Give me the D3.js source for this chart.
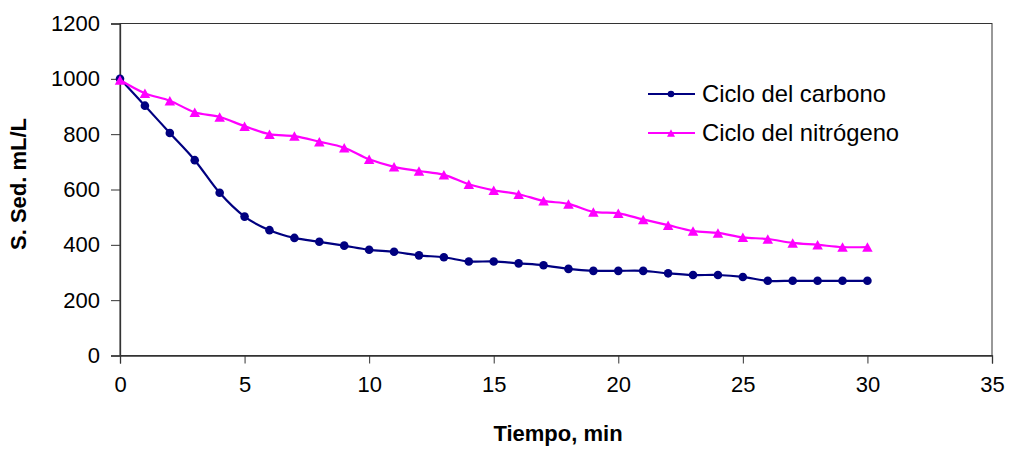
<!DOCTYPE html>
<html>
<head>
<meta charset="utf-8">
<script src="https://cdn.jsdelivr.net/npm/d3@7"></script>
<style>
  html, body { margin: 0; padding: 0; background: #fff; }
  svg { display: block; font-family: "Liberation Sans", Arial, sans-serif; }
</style>
</head>
<body>
<svg id="chart" width="1012" height="450"></svg>
<script>
// Sedimentable solids over time for two treatment cycles
const time = [0,1,2,3,4,5,6,7,8,9,10,11,12,13,14,15,16,17,18,19,20,21,22,23,24,25,26,27,28,29,30];
const carbono = [1000,903,804,706,588,502,453,425,411,397,382,375,362,355,340,340,333,326,313,306,306,306,297,291,291,284,270,270,270,270,270];
const nitrogeno = [996,948,921,879,862,829,800,793,773,751,709,682,667,653,619,597,583,559,548,519,514,492,471,450,443,427,421,407,400,392,392];
const xTicks = [0,5,10,15,20,25,30,35];
const yTicks = [0,200,400,600,800,1000,1200];
const seriesNames = ["Ciclo del carbono", "Ciclo del nitrógeno"];

const svg = d3.select("#chart");
const plot = { left: 120, right: 992, top: 23.5, bottom: 355.5 };

const x = d3.scaleLinear().domain([0, 35]).range([plot.left, plot.right]);
const y = d3.scaleLinear().domain([0, 1200]).range([plot.bottom, plot.top]);

// plot frame
svg.append("rect")
  .attr("x", plot.left).attr("y", plot.top)
  .attr("width", plot.right - plot.left).attr("height", plot.bottom - plot.top)
  .attr("fill", "none").attr("stroke", "#333").attr("stroke-width", 1);

// axes
const xAxis = svg.append("g")
  .attr("transform", `translate(0,${plot.bottom})`)
  .call(d3.axisBottom(x).tickValues(xTicks).tickSize(8).tickPadding(13).tickFormat(d3.format("d")));
const yAxis = svg.append("g")
  .attr("transform", `translate(${plot.left},0)`)
  .call(d3.axisLeft(y).tickValues(yTicks).tickSize(9).tickPadding(11).tickFormat(d3.format("d")));

[xAxis, yAxis].forEach(g => {
  g.select(".domain").attr("stroke", "#333").attr("stroke-width", 1.3);
  g.selectAll(".tick line").attr("stroke", "#333").attr("stroke-width", 1);
  g.selectAll(".tick text")
    .attr("fill", "#000")
    .style("font-family", '"Liberation Sans", Arial, sans-serif')
    .style("font-size", "22px");
});

// axis titles
svg.append("text")
  .attr("x", 558).attr("y", 441)
  .attr("text-anchor", "middle")
  .style("font-size", "22px").style("font-weight", "bold")
  .text("Tiempo, min");
svg.append("text")
  .attr("transform", "translate(26,184) rotate(-90)")
  .attr("text-anchor", "middle")
  .style("font-size", "22px").style("font-weight", "bold")
  .text("S. Sed. mL/L");

// series
const colors = ["#000080", "#ff00ff"];
const series = [carbono, nitrogeno];

const line = d3.line()
  .x((d, i) => x(time[i]))
  .y(d => y(d))
  .curve(d3.curveCardinal.tension(0));

function triangle(w, h) {
  return `M0,${-h / 2}L${w / 2},${h / 2}L${-w / 2},${h / 2}Z`;
}

series.forEach((vals, s) => {
  const g = svg.append("g");
  g.append("path")
    .datum(vals)
    .attr("fill", "none")
    .attr("stroke", colors[s])
    .attr("stroke-width", 2.2)
    .attr("d", line);

  if (s === 0) {
    g.selectAll("circle").data(vals).join("circle")
      .attr("cx", (d, i) => x(time[i]))
      .attr("cy", d => y(d))
      .attr("r", 4.3)
      .attr("fill", colors[s]);
  } else {
    g.selectAll("path.m").data(vals).join("path")
      .attr("class", "m")
      .attr("transform", (d, i) => `translate(${x(time[i])},${y(d)})`)
      .attr("d", triangle(10.5, 9.5))
      .attr("fill", colors[s]);
  }
});

// legend
const legendRows = [94, 133];
seriesNames.forEach((name, s) => {
  const g = svg.append("g").attr("transform", `translate(648,${legendRows[s]})`);
  g.append("line")
    .attr("x1", 0).attr("x2", 47).attr("y1", 0).attr("y2", 0)
    .attr("stroke", colors[s]).attr("stroke-width", 2.2);
  if (s === 0) {
    g.append("circle").attr("cx", 23).attr("cy", 0).attr("r", 3.3).attr("fill", colors[s]);
  } else {
    g.append("path").attr("transform", "translate(23,0)").attr("d", triangle(8, 7.5)).attr("fill", colors[s]);
  }
  g.append("text")
    .attr("x", 54).attr("y", 0).attr("dy", "0.35em")
    .style("font-size", "23.8px")
    .text(name);
});
</script>
</body>
</html>
